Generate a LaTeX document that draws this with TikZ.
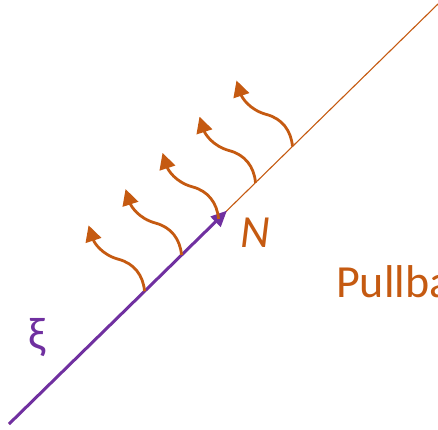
\documentclass[tikz,border=0pt]{standalone}
\usepackage{fontspec}
\setmainfont{Carlito}
\usepackage{tikz}
\usetikzlibrary{arrows.meta,positioning,calc}
\definecolor{pborange}{HTML}{C55A11}
\definecolor{pbpurple}{HTML}{7030A0}
\tikzset{
  pbline/.style={draw=pborange, line width=1.1pt},
  xiline/.style={-{Triangle[length=16pt,width=14pt]}, draw=pbpurple, line width=3pt},
  wavearrow/.style={-{Triangle[length=16pt,width=16pt]}, draw=pborange, line width=2.8pt},
  biglabel/.style={inner sep=0pt, font=\fontsize{46}{50}\selectfont}
}

\begin{document}
\begin{tikzpicture}[x=1pt,y=1pt]
  \useasboundingbox (0,0) rectangle (438,429);
  \clip (0,0) rectangle (438,429);
  \coordinate (lo) at (9,5);
  \coordinate (hi) at (438,425);
  \draw[pbline] (lo) -- (hi);
  \coordinate (xitip) at ($(lo)!0.508!(hi)$);
  \draw[xiline] (lo) -- (xitip);
  % wavy arrows along the line
  \foreach \i in {0,...,4} {
    \coordinate (base\i) at ($(lo)!0.316+0.0862*\i!(hi)$);
    \draw[wavearrow] (base\i) to[out=95,in=-15] ++(-26,32) to[out=165,in=-72] ++(-30,34);
  }
  \node[biglabel, text=pbpurple] (xi) at (37,91) {ξ};
  \node[biglabel, text=pborange] (N) at (255,196) {\textit{N}};
  \node[biglabel, text=pborange, anchor=base west] (pullback) at (336,132) {Pullback};
\end{tikzpicture}
\end{document}
